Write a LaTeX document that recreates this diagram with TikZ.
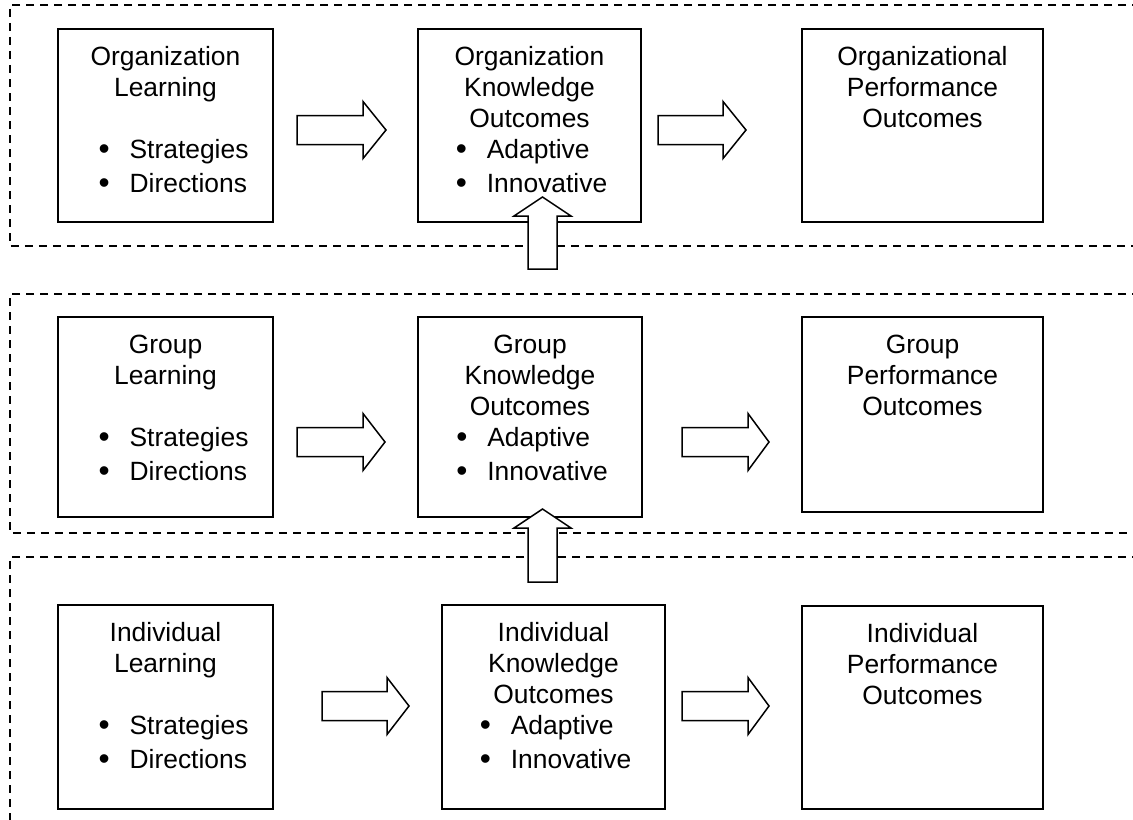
\documentclass[tikz,border=0pt]{standalone}
\usepackage{fontspec}
\setmainfont{Liberation Sans}
\renewcommand{\arraystretch}{1.1}

% text of a box: width, height, lines (set at the top of the box)
\newcommand{\boxtext}[3]{\parbox[c][#2][t]{#1}{\centering\rule{0pt}{18pt}#3}}
% two bullet points, shifted right by #1
\newcommand{\dotmark}{\raisebox{-0.5pt}{\scalebox{1.2}{\textbullet}}}
\newcommand{\twobullets}[3][0pt]{\hspace*{#1}\begin{tabular}[t]{@{}l@{\hspace{10pt}}l@{}}\dotmark & #2\\ \dotmark & #3\end{tabular}}

\tikzset{
    box/.style={draw, line width=1pt, inner sep=0pt, font=\fontsize{13.2pt}{15.5pt}\selectfont},
    level/.style={dash pattern=on 4pt off 3pt, line width=0.65pt},
    arrowline/.style={draw, fill=white, line width=0.75pt, line join=miter},
    pics/blockarrow/.style n args={2}{code={
        \draw[arrowline] (0,-14.5) -- ({#1-#2},-14.5) -- ({#1-#2},-28.5) -- (#1,0)
            -- ({#1-#2},28.5) -- ({#1-#2},14.5) -- (0,14.5) -- cycle;
    }},
}

\begin{document}
\begin{tikzpicture}[x=0.5pt, y=-0.5pt]
        \useasboundingbox (0,0) rectangle (1133,819);

        % Dashed frames of the three levels
        \draw[level] (1140,5) -- (10,5) -- (10,246) -- (1140,246);
        \draw[level] (1140,294) -- (10,294) -- (10,533) -- (1140,533);
        \draw[level] (1140,557) -- (10,557) -- (10,830);

        % Organization level
        \node[box] (ol) at (165.5,125.5) {\boxtext{107.5pt}{96.5pt}{Organization\\Learning\\[15.5pt]\twobullets[8pt]{Strategies}{Directions}}};
        \node[box] (ok) at (529.5,125.5) {\boxtext{111.5pt}{96.5pt}{Organization\\Knowledge\\Outcomes\\\twobullets[2pt]{Adaptive}{Innovative}}};
        \node[box] (op) at (922.5,125.5) {\boxtext{120.5pt}{96.5pt}{Organizational\\Performance\\Outcomes}};

        % Group level
        \node[box] (gl) at (165.5,417) {\boxtext{107.5pt}{100pt}{Group\\Learning\\[15.5pt]\twobullets[8pt]{Strategies}{Directions}}};
        \node[box] (gk) at (530,417) {\boxtext{112pt}{100pt}{Group\\Knowledge\\Outcomes\\\twobullets[2pt]{Adaptive}{Innovative}}};
        \node[box] (gp) at (922.5,414.5) {\boxtext{120.5pt}{97.5pt}{Group\\Performance\\Outcomes}};

        % Individual level
        \node[box] (il) at (165.5,707) {\boxtext{107.5pt}{102pt}{Individual\\Learning\\[15.5pt]\twobullets[8pt]{Strategies}{Directions}}};
        \node[box] (ik) at (553.5,707) {\boxtext{111.5pt}{102pt}{Individual\\Knowledge\\Outcomes\\\twobullets[2pt]{Adaptive}{Innovative}}};
        \node[box] (ip) at (922.5,707.5) {\boxtext{120.5pt}{101.5pt}{Individual\\Performance\\Outcomes}};

        % Arrows within the levels
        \pic at (297,130) {blockarrow={89}{23}};
        \pic at (658,130) {blockarrow={88}{23}};
        \pic at (297,442) {blockarrow={88}{22}};
        \pic at (682,442) {blockarrow={87}{21}};
        \pic at (322,706) {blockarrow={87}{22}};
        \pic at (682,706) {blockarrow={87}{21}};

        % Arrows between the levels
        \pic[rotate=90] at (542.5,269) {blockarrow={72}{19}};
        \pic[rotate=90] at (542.5,582) {blockarrow={73}{19}};
\end{tikzpicture}
\end{document}
